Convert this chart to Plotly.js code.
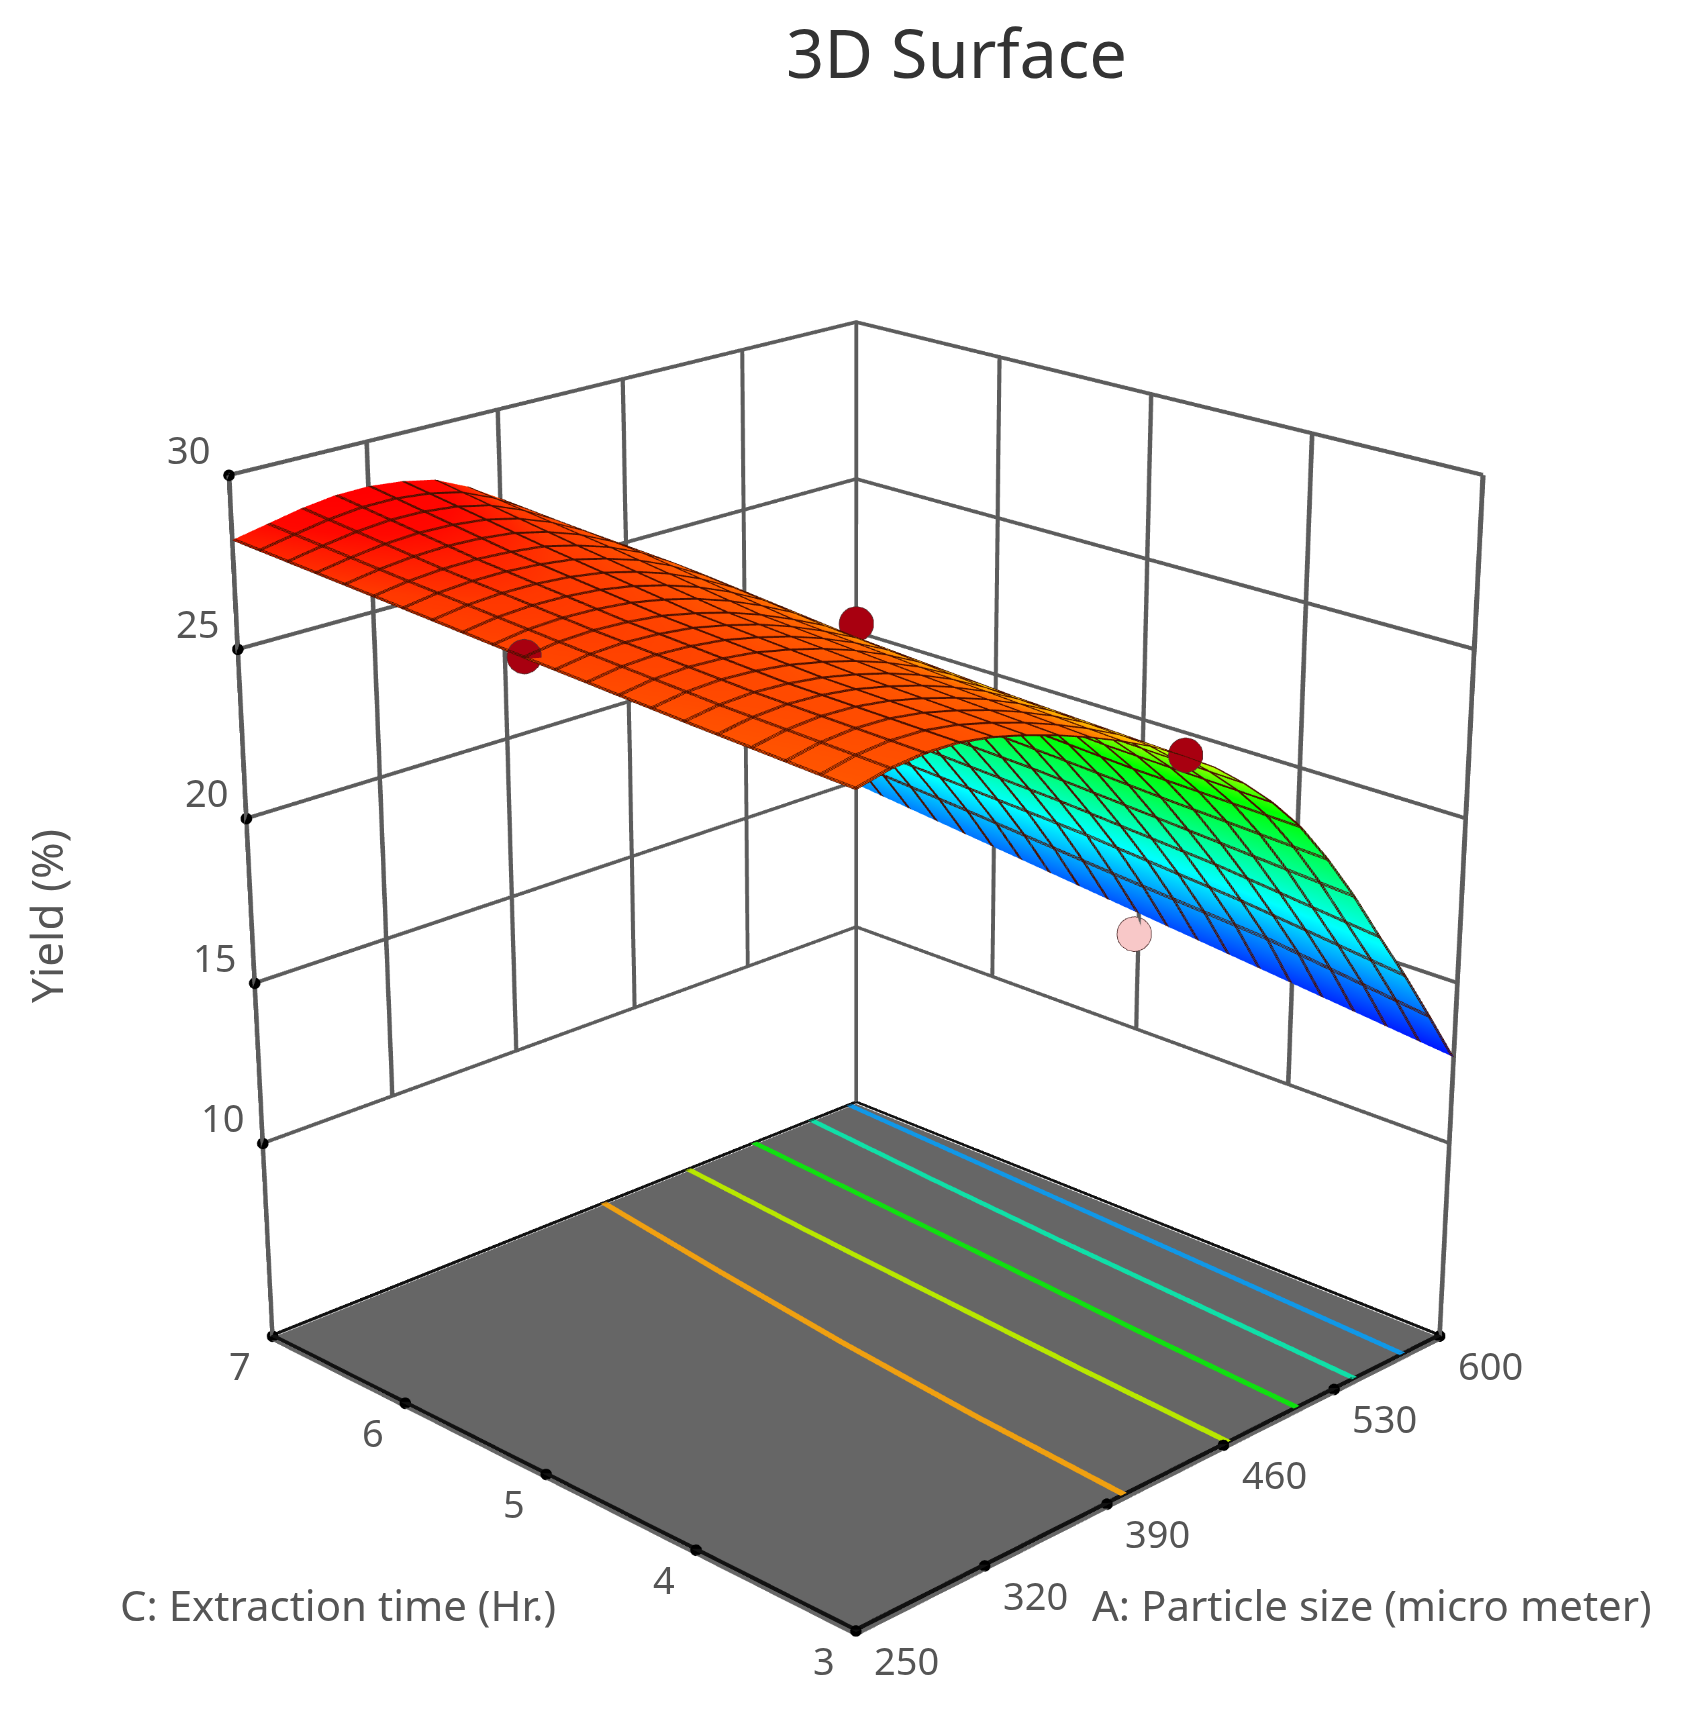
<!DOCTYPE html>
<html><head><meta charset="utf-8">
<script src="https://cdn.plot.ly/plotly-3.0.1.min.js"></script>
<style>html,body{margin:0;padding:0;background:#fff;overflow:hidden;width:1682px;height:1709px;position:relative}#c{position:absolute}</style>
</head><body><div id="c"></div>
<script>
const particleSize=[250,267.5,285,302.5,320,337.5,355,372.5,390,407.5,425,442.5,460,477.5,495,512.5,530,547.5,565,582.5,600];
const extractionTime=[3,4,5,6,7];
const yieldAtTime3=[27.00,27.22,27.32,27.30,27.15,26.90,26.60,26.25,25.85,25.40,24.85,24.25,23.50,22.65,21.65,20.40,19.00,17.45,15.95,14.35,12.70];
const yieldAtTime4=[27.25,27.40,27.45,27.40,27.28,27.08,26.83,26.50,26.10,25.60,25.05,24.40,23.65,22.80,21.80,20.65,19.35,18.00,16.55,15.05,13.25];
const yieldAtTime5=[27.54,27.68,27.72,27.68,27.58,27.38,27.13,26.80,26.40,25.95,25.35,24.70,23.95,23.10,22.10,20.95,19.70,18.38,17.00,15.45,13.80];
const yieldAtTime6=[27.85,28.00,28.08,28.10,28.05,27.95,27.72,27.42,27.00,26.45,25.82,25.08,24.25,23.31,22.27,21.14,19.90,18.65,17.30,15.90,14.35];
const yieldAtTime7=[28.15,28.35,28.55,28.68,28.70,28.60,28.40,27.95,27.35,26.70,25.98,25.20,24.36,23.43,22.40,21.28,20.10,18.90,17.60,16.30,14.90];
const aTicks=[250,320,390,460,530,600];
const cTicks=[3,4,5,6,7];
const zTicks=[10,15,20,25,30];
const contourTime=[3,4,5,6,7];
const contourOrange=[400,407,416,427,439];
const contourYellow=[463,469,476,483,491];
const contourGreen=[506,512,519,526,533];
const contourTeal=[543,549,555,562,570];
const contourBlue=[575,580,585,590,595];
const pointA=[425,250,425,597];
const pointC=[5,5,3,5];
const pointY=[25.75,27.6,24.9,13.2];
const pointColors=['#a80010','#a80010','#a80010','#f8c8c8'];
const floorZ=3.8;
const FONT='"Noto Sans",sans-serif';
const W=3866,H=3866,LEFT=-1077,TOP=-1012;
const box=document.getElementById('c');box.style.left=LEFT+'px';box.style.top=TOP+'px';box.style.width=W+'px';box.style.height=H+'px';
const px=x=>(x-LEFT)/W, py=y=>1-(y-TOP)/H;

function Mesh(color){return {type:'mesh3d',x:[],y:[],z:[],i:[],j:[],k:[],color,flatshading:true,
  lighting:{ambient:1,diffuse:0,specular:0,roughness:1,fresnel:0},hoverinfo:'skip',showscale:false};}
function quad(m,a,b,c,d){const n=m.x.length;[a,b,c,d].forEach(p=>{m.x.push(p[0]);m.y.push(p[1]);m.z.push(p[2]);});
  m.i.push(n,n);m.j.push(n+1,n+2);m.k.push(n+2,n+3);}
function rib(m,p,q,o){quad(m,[p[0]-o[0],p[1]-o[1],p[2]-o[2]],[q[0]-o[0],q[1]-o[1],q[2]-o[2]],[q[0]+o[0],q[1]+o[1],q[2]+o[2]],[p[0]+o[0],p[1]+o[1],p[2]+o[2]]);}

const dA=1.2,dC=0.014,dZ=0.06;
const gridM=Mesh('#5c5c5c');
aTicks.forEach(a=>rib(gridM,[a,7,(a===250||a===600)?floorZ:10],[a,7,30],[dA,0,0]));
cTicks.forEach(c=>rib(gridM,[600,c,c===3?floorZ:10],[600,c,30],[0,dC,0]));
zTicks.forEach(v=>{rib(gridM,[250,7,v],[600,7,v],[0,0,dZ]);rib(gridM,[600,3,v],[600,7,v],[0,0,dZ]);});
const edgeM=Mesh('#111111');
const fz=floorZ+0.03;
rib(edgeM,[248.8,3,fz],[601.2,3,fz],[0,0.015,0]);
rib(edgeM,[248.8,7,fz],[601.2,7,fz],[0,0.015,0]);
rib(edgeM,[250,3,fz],[250,7,fz],[1.2,0,0]);
rib(edgeM,[600,3,fz],[600,7,fz],[1.2,0,0]);

function contourMesh(a,col){const m=Mesh(col);for(let i=0;i<a.length-1;i++){rib(m,[a[i],contourTime[i],fz],[a[i+1],contourTime[i+1],fz],[1.8,0,0]);}return m;}

const meshLine='#4a1000';
function surf(ox,oy){return {type:'surface',x:particleSize,y:extractionTime,z:[yieldAtTime3,yieldAtTime4,yieldAtTime5,yieldAtTime6,yieldAtTime7],
  cmin:12.3,cmax:28.7,showscale:false,
  colorscale:[[0,'#0000ff'],[0.287,'#00ffff'],[0.591,'#00ff00'],[0.774,'#ffff00'],[0.854,'#ff6800'],[0.915,'#ff5000'],[0.951,'#ff3800'],[0.98,'#ff0800'],[1,'#ff0000']],
  lighting:{ambient:1,diffuse:0,specular:0,roughness:1,fresnel:0},
  contours:{
    x:{show:true,start:250+ox,end:600,size:17.5,color:meshLine,width:2,highlight:false},
    y:{show:true,start:3+oy,end:7,size:0.2,color:meshLine,width:2,highlight:false},
    z:{highlight:false}},
  hoverinfo:'skip'};}
const traces=[surf(0,0),surf(0.7,0.009),surf(1.4,0.018),gridM,edgeM,
  contourMesh(contourOrange,'#f0a010'),contourMesh(contourYellow,'#b8e800'),contourMesh(contourGreen,'#10e010'),contourMesh(contourTeal,'#10e0a8'),contourMesh(contourBlue,'#1098e8')];
traces.push({type:'scatter3d',mode:'markers',x:pointA,y:pointC,z:pointY,
  marker:{size:15,color:pointColors,line:{color:'#553333',width:2}},hoverinfo:'skip',showlegend:false});
traces.push({type:'scatter3d',mode:'markers',
  x:aTicks.concat(cTicks.map(()=>250),zTicks.map(()=>250)),
  y:aTicks.map(()=>3).concat(cTicks,zTicks.map(()=>7)),
  z:aTicks.map(()=>floorZ).concat(cTicks.map(()=>floorZ),zTicks),
  marker:{size:5,color:'#000'},hoverinfo:'skip',showlegend:false});

const tickFont={family:FONT,size:38,color:'#555'};
const sceneAnn=[];
aTicks.forEach(a=>sceneAnn.push({x:a,y:3,z:floorZ,text:String(a),showarrow:false,xshift:51,yshift:-29,font:tickFont}));
cTicks.forEach(c=>sceneAnn.push({x:250,y:c,z:floorZ,text:String(c),showarrow:false,xshift:-32,yshift:-29,font:tickFont}));
zTicks.forEach(v=>sceneAnn.push({x:250,y:7,z:v,text:String(v),showarrow:false,xshift:-40,yshift:26,font:tickFont}));

function axis(vals,range,extra){return Object.assign({title:{text:''},range,tickmode:'array',tickvals:vals,showticklabels:false,
  showgrid:false,zeroline:false,showline:false,ticks:'',showspikes:false,showbackground:false,autorange:false},extra||{});}
function label(text,x,y,size,color,angle){return {text,xref:'paper',yref:'paper',x:px(x),y:py(y),xanchor:'center',yanchor:'middle',textangle:angle||0,showarrow:false,font:{family:FONT,size,color}};}
const layout={
  width:W,height:H,paper_bgcolor:'#fff',showlegend:false,
  margin:{l:0,r:0,t:0,b:0},
  scene:{domain:{x:[0,1],y:[0,1]},
    aspectmode:'manual',aspectratio:{x:1,y:1,z:1.08},
    camera:{eye:{x:-3.57,y:-3.57,z:1.97},center:{x:0,y:0,z:0},up:{x:0,y:0,z:1},projection:{type:'perspective'}},
    xaxis:axis(aTicks,[248.8,601.2]),
    yaxis:axis(cTicks,[2.985,7.015]),
    zaxis:axis(zTicks,[3.7,30.1],{showbackground:true,backgroundcolor:'#666666'}),
    bgcolor:'#fff',annotations:sceneAnn},
  annotations:[
    label('3D Surface',956,52,67,'#333'),
    label('C: Extraction time (Hr.)',338,1604,42,'#555'),
    label('A: Particle size (micro meter)',1372,1604,42,'#555'),
    label('Yield (%)',46,916,44,'#555',-90)
  ]
};
Plotly.newPlot('c',traces,layout,{displayModeBar:false});
</script></body></html>
